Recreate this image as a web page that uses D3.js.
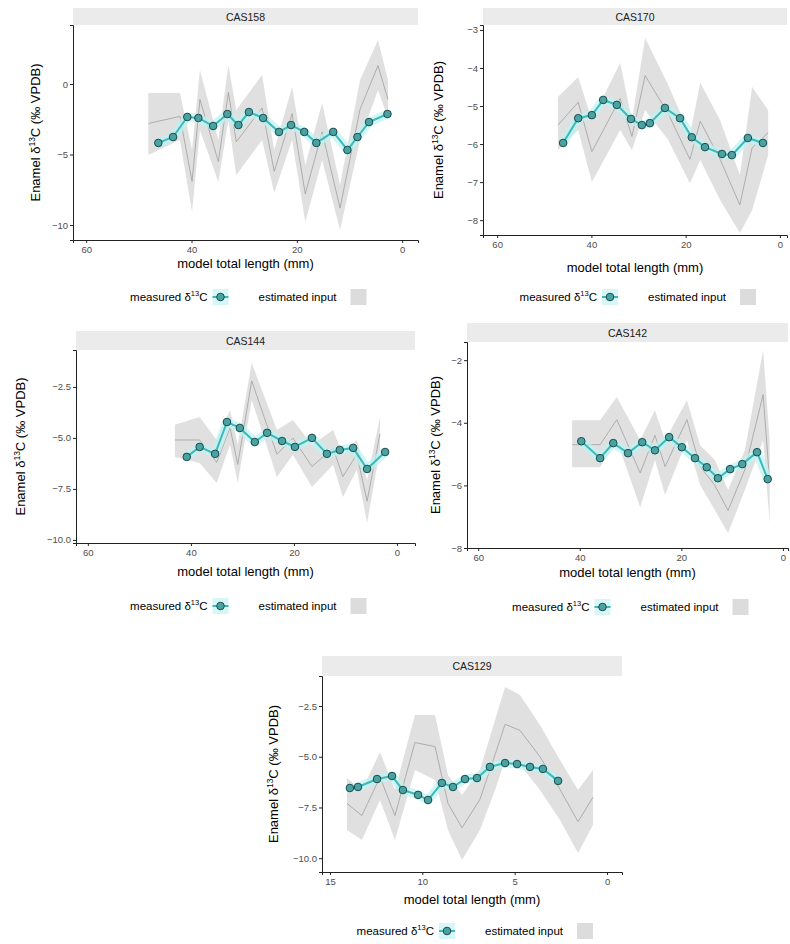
<!DOCTYPE html>
<html>
<head>
<meta charset="utf-8">
<script src="https://cdn.jsdelivr.net/npm/d3@7"></script>
<style>
  body { margin: 0; background: #fff; }
  svg { font-family: "Liberation Sans", Arial, sans-serif; }
  .axis path, .axis line { stroke: #222; }
  .axis text { fill: #4d4d4d; font-size: 9.5px; }
</style>
</head>
<body>
<div id="chart"></div>
<script>
const W = 790
const H = 944
const SPECIMENS = ['CAS158', 'CAS170', 'CAS144', 'CAS142', 'CAS129']

// measured values: length (mm) and enamel d13C
const MEAS_LEN = [
  [46.3, 43.5, 40.8, 38.7, 35.9, 33.2, 31.1, 29.1, 26.4, 23.4, 21.1, 18.6, 16.3, 13.1, 10.4, 8.5, 6.3, 2.8],
  [46.0, 42.8, 39.9, 37.5, 34.6, 31.6, 29.3, 27.6, 24.4, 21.2, 18.7, 15.9, 12.3, 10.2, 6.8, 3.6],
  [40.8, 38.3, 35.3, 33.0, 30.5, 27.6, 25.2, 22.3, 19.8, 16.5, 13.6, 11.1, 8.5, 5.8, 2.3],
  [39.7, 36.0, 33.4, 30.5, 27.7, 25.2, 22.4, 19.9, 17.3, 15.0, 12.8, 10.4, 8.0, 5.1, 3.0],
  [13.92, 13.48, 12.45, 11.64, 11.05, 10.23, 9.69, 8.94, 8.34, 7.69, 7.04, 6.34, 5.52, 4.87, 4.17, 3.47, 2.65]
]
const MEAS_D13C = [
  [-4.18, -3.76, -2.34, -2.41, -2.98, -2.13, -2.91, -1.99, -2.41, -3.40, -2.91, -3.40, -4.18, -3.40, -4.68, -3.76, -2.70, -2.13],
  [-5.97, -5.32, -5.24, -4.84, -4.97, -5.34, -5.50, -5.45, -5.05, -5.32, -5.82, -6.08, -6.26, -6.29, -5.84, -5.97],
  [-5.93, -5.44, -5.78, -4.22, -4.51, -5.20, -4.75, -5.15, -5.44, -5.00, -5.78, -5.59, -5.49, -6.52, -5.69],
  [-4.59, -5.13, -4.65, -4.97, -4.62, -4.88, -4.46, -4.78, -5.13, -5.42, -5.77, -5.48, -5.32, -4.94, -5.80],
  [-6.54, -6.49, -6.10, -5.95, -6.64, -6.88, -7.13, -6.29, -6.49, -6.10, -6.05, -5.50, -5.31, -5.36, -5.50, -5.60, -6.19]
]

// estimated input: length, lower and upper bound, central line
const EST_LEN = [
  [48.2, 42.2, 39.9, 38.4, 34.9, 33.0, 31.5, 26.6, 24.3, 20.9, 18.4, 15.2, 11.8, 8.0, 4.6, 2.7],
  [47.1, 42.8, 39.9, 33.9, 31.4, 28.6, 23.7, 19.1, 16.9, 12.7, 8.5, 5.9, 2.5],
  [43.1, 38.3, 35.0, 32.4, 30.9, 28.2, 23.3, 20.2, 16.5, 12.4, 10.5, 7.8, 5.8, 3.3],
  [41.5, 36.0, 32.7, 28.1, 25.2, 23.2, 18.9, 16.3, 13.4, 10.8, 7.5, 3.9, 2.6],
  [14.08, 13.27, 12.29, 11.48, 10.40, 9.31, 8.61, 7.85, 6.88, 6.06, 5.52, 4.71, 3.63, 2.55, 1.57, 0.76]
]
const EST_LO = [
  [-5.04, -3.97, -9.08, -3.26, -6.95, -2.55, -6.45, -3.97, -7.73, -3.97, -9.79, -5.39, -10.35, -3.97, -0.43, -2.41],
  [-6.16, -5.63, -7.00, -5.63, -6.16, -5.11, -5.89, -7.03, -6.42, -7.47, -8.34, -7.74, -6.29],
  [-5.93, -6.23, -7.21, -5.34, -7.21, -3.14, -6.91, -5.83, -7.40, -6.32, -7.89, -6.57, -9.17, -5.59],
  [-5.42, -5.42, -4.56, -6.70, -5.19, -6.31, -4.56, -5.99, -6.79, -7.53, -6.15, -4.56, -7.21],
  [-8.61, -9.10, -7.13, -9.10, -5.65, -6.15, -8.61, -10.09, -8.61, -6.64, -5.16, -5.40, -6.64, -8.12, -9.74, -8.36]
]
const EST_HI = [
  [-0.64, -0.64, -4.68, 0.99, -3.97, 1.35, -1.84, 0.64, -4.68, -0.21, -5.74, -1.35, -7.16, 0.28, 3.12, 0.28],
  [-4.76, -4.24, -5.37, -3.87, -5.37, -3.21, -4.45, -5.76, -4.39, -5.37, -6.82, -4.50, -5.11],
  [-4.36, -3.97, -5.10, -3.63, -5.34, -1.32, -4.61, -4.12, -5.34, -4.61, -5.83, -5.10, -7.06, -3.97],
  [-3.92, -3.92, -3.18, -4.56, -3.60, -4.56, -3.28, -4.72, -5.19, -6.15, -4.88, -1.68, -4.56],
  [-6.05, -6.64, -4.77, -6.64, -2.94, -2.94, -5.90, -6.88, -5.65, -3.19, -1.56, -1.96, -3.44, -5.16, -6.64, -5.65]
]
const EST_MID = [
  [-2.8, -2.3, -6.9, -1.1, -5.5, -0.6, -4.1, -1.7, -6.2, -2.1, -7.8, -3.4, -8.8, -1.8, 1.3, -1.1],
  [-5.5, -4.9, -6.2, -4.8, -5.8, -4.2, -5.2, -6.4, -5.4, -6.4, -7.6, -6.1, -5.7],
  [-5.1, -5.1, -6.2, -4.5, -6.3, -2.2, -5.8, -5.0, -6.4, -5.5, -6.9, -5.8, -8.1, -4.8],
  [-4.7, -4.7, -3.9, -5.6, -4.4, -5.4, -3.9, -5.4, -6.0, -6.8, -5.5, -3.1, -5.9],
  [-7.3, -7.9, -6.0, -7.9, -4.3, -4.5, -7.3, -8.5, -7.1, -4.9, -3.4, -3.7, -5.0, -6.6, -8.2, -7.0]
]

const X_TICKS = [[60, 40, 20, 0], [60, 40, 20, 0], [60, 40, 20, 0], [60, 40, 20, 0], [15, 10, 5, 0]]
const Y_TICKS = [[0, -5, -10], [-3, -4, -5, -6, -7, -8], [-2.5, -5.0, -7.5, -10.0], [-2, -4, -6, -8], [-2.5, -5.0, -7.5, -10.0]]
const Y_FMT = ['d', 'd', '.1f', 'd', '.1f']

// panel boxes (pixels) and domains
const PANELS = [
  {x0: 73, x1: 418, y0: 25, y1: 240, strip: 17, xd: [62.5, -3], yd: [-11.06, 4.18], ytx: 40, xtt: 264, leg: 297},
  {x0: 483, x1: 787, y0: 25, y1: 235, strip: 17, xd: [63.0, -1.5], yd: [-8.39, -2.87], ytx: 443, xtt: 268, leg: 297},
  {x0: 76, x1: 415, y0: 350, y1: 543, strip: 19, xd: [62.3, -3.5], yd: [-10.15, -0.69], ytx: 25, xtt: 572, leg: 606},
  {x0: 467, x1: 788, y0: 342, y1: 548, strip: 19, xd: [62.2, -1.0], yd: [-8.0, -1.42], ytx: 440, xtt: 573, leg: 607},
  {x0: 322, x1: 622, y0: 676, y1: 872, strip: 20, xd: [15.43, -0.81], yd: [-10.68, -1.02], ytx: 278, xtt: 900, leg: 931}
]

const TEAL = '#3bbaba'
const GLOW = '#bdf2f2'
const PT_FILL = '#4aa3a3'
const PT_STROKE = '#1e4a4a'
const RIBBON = '#d6d6d6'

const svg = d3.select('#chart').append('svg').attr('width', W).attr('height', H)

PANELS.forEach((p, k) => {
  const g = svg.append('g')
  const x = d3.scaleLinear().domain(p.xd).range([p.x0, p.x1])
  const y = d3.scaleLinear().domain(p.yd).range([p.y1, p.y0])

  // strip
  g.append('rect').attr('x', p.x0).attr('y', p.y0 - p.strip)
    .attr('width', p.x1 - p.x0).attr('height', p.strip).attr('fill', '#ebebeb')
  g.append('text').attr('x', (p.x0 + p.x1) / 2).attr('y', p.y0 - p.strip / 2 + 4)
    .attr('text-anchor', 'middle').attr('font-size', 10.5).attr('fill', '#1a1a1a')
    .text(SPECIMENS[k])

  // estimated input ribbon
  const est = EST_LEN[k].map((l, i) => ({l, lo: EST_LO[k][i], hi: EST_HI[k][i], mid: EST_MID[k][i]}))
  const area = d3.area().x(d => x(d.l)).y0(d => y(d.lo)).y1(d => y(d.hi))
  g.append('path').datum(est).attr('d', area).attr('fill', RIBBON).attr('opacity', 0.75)
  g.append('path').datum(est).attr('d', d3.line().x(d => x(d.l)).y(d => y(d.mid)))
    .attr('fill', 'none').attr('stroke', '#a0a0a0').attr('stroke-width', 0.8)

  // measured series
  const meas = MEAS_LEN[k].map((l, i) => ({l, v: MEAS_D13C[k][i]}))
  const line = d3.line().x(d => x(d.l)).y(d => y(d.v))
  g.append('path').datum(meas).attr('d', line).attr('fill', 'none')
    .attr('stroke', GLOW).attr('stroke-width', 9).attr('opacity', 0.7).attr('stroke-linejoin', 'round')
  g.append('path').datum(meas).attr('d', line).attr('fill', 'none')
    .attr('stroke', TEAL).attr('stroke-width', 2)
  g.selectAll('.pt').data(meas).enter().append('circle')
    .attr('cx', d => x(d.l)).attr('cy', d => y(d.v)).attr('r', 3.8)
    .attr('fill', PT_FILL).attr('stroke', PT_STROKE).attr('stroke-width', 1)

  // axes
  const xa = d3.axisBottom(x).tickValues(X_TICKS[k]).tickSize(3).tickPadding(3).tickFormat(d3.format('d'))
  g.append('g').attr('class', 'axis').attr('transform', `translate(0,${p.y1})`).call(xa)
  const ya = d3.axisLeft(y).tickValues(Y_TICKS[k]).tickSize(3).tickPadding(2).tickFormat(d3.format(Y_FMT[k]))
  g.append('g').attr('class', 'axis').attr('transform', `translate(${p.x0},0)`).call(ya)
  g.selectAll('.axis .domain').attr('stroke-width', 1)

  // axis titles
  g.append('text').attr('x', (p.x0 + p.x1) / 2).attr('y', p.xtt + 4)
    .attr('text-anchor', 'middle').attr('font-size', 13).attr('fill', '#000')
    .text('model total length (mm)')
  const yt = g.append('text')
    .attr('transform', `translate(${p.ytx},${(p.y0 + p.y1) / 2}) rotate(-90)`)
    .attr('text-anchor', 'middle').attr('font-size', 13).attr('fill', '#000')
  yt.append('tspan').text('Enamel δ')
  yt.append('tspan').attr('font-size', 8.5).attr('dy', -5).text('13')
  yt.append('tspan').attr('dy', 5).text('C (‰ VPDB)')

  // legend
  const cx = (p.x0 + p.x1) / 2
  const lg = g.append('g').attr('transform', `translate(${cx},${p.leg})`)
  const t1 = lg.append('text').attr('x', -38).attr('y', 4).attr('text-anchor', 'end')
    .attr('font-size', 11.5).attr('fill', '#000')
  t1.append('tspan').text('measured δ')
  t1.append('tspan').attr('font-size', 7.5).attr('dy', -5).text('13')
  t1.append('tspan').attr('dy', 5).text('C')
  lg.append('rect').attr('x', -33).attr('y', -8).attr('width', 16).attr('height', 16).attr('fill', GLOW).attr('opacity', 0.6)
  lg.append('line').attr('x1', -33).attr('x2', -17).attr('y1', 0).attr('y2', 0).attr('stroke', TEAL).attr('stroke-width', 2)
  lg.append('circle').attr('cx', -25).attr('cy', 0).attr('r', 3.8)
    .attr('fill', PT_FILL).attr('stroke', PT_STROKE)
  lg.append('text').attr('x', 13).attr('y', 4).attr('font-size', 11.5).attr('fill', '#000').text('estimated input')
  lg.append('rect').attr('x', 105).attr('y', -8).attr('width', 16).attr('height', 16).attr('fill', RIBBON).attr('opacity', 0.85)
})
</script>
</body>
</html>
